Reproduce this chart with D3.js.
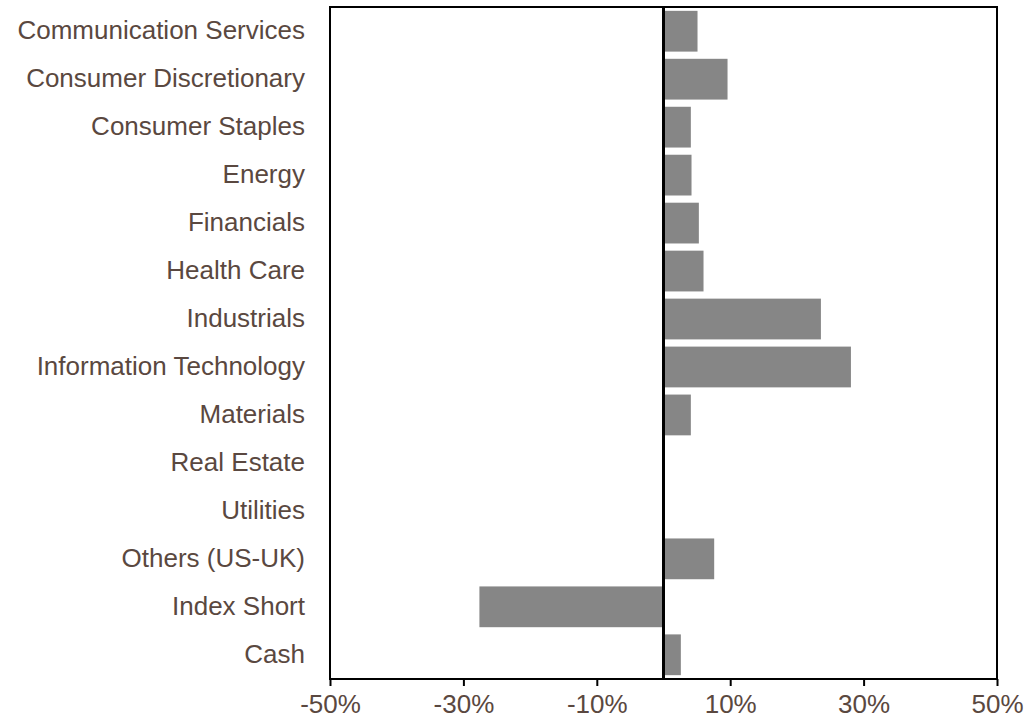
<!DOCTYPE html>
<html>
<head>
<meta charset="utf-8">
<script src="https://cdn.jsdelivr.net/npm/d3@7"></script>
<style>
    body { margin: 0; background: #fff; }
    .lbl { font-family: "Liberation Sans", Arial, sans-serif; fill: #5a4840; }
</style>
</head>
<body>
<div id="chart"></div>
<script>
const sectors = ['Communication Services', 'Consumer Discretionary', 'Consumer Staples', 'Energy',
    'Financials', 'Health Care', 'Industrials', 'Information Technology', 'Materials',
    'Real Estate', 'Utilities', 'Others (US-UK)', 'Index Short', 'Cash'];
const weights = [5.1, 9.6, 4.1, 4.2, 5.3, 6.0, 23.6, 28.1, 4.1, 0, 0, 7.6, -27.6, 2.6];
const tickValues = [-50, -30, -10, 10, 30, 50];

const margin = { top: 7, right: 30, bottom: 45, left: 330 };
const width = 1027 - margin.left - margin.right;
const height = 724 - margin.top - margin.bottom;

const svg = d3.select('#chart')
    .append('svg')
    .attr('width', 1027)
    .attr('height', 724)
    .append('g')
    .attr('transform', 'translate(' + margin.left + ',' + margin.top + ')');

const x = d3.scaleLinear().domain([-50, 50]).range([0, width]);
const y = d3.scaleBand().domain(sectors).range([0, height]).paddingInner(0.15).paddingOuter(0.08);

// bars
svg.selectAll('.bar')
    .data(sectors)
    .enter()
    .append('rect')
    .attr('class', 'bar')
    .attr('x', (d, i) => x(Math.min(0, weights[i])))
    .attr('y', d => y(d))
    .attr('width', (d, i) => Math.abs(x(weights[i]) - x(0)))
    .attr('height', y.bandwidth())
    .attr('fill', '#868686');

// frame
svg.append('rect')
    .attr('width', width)
    .attr('height', height)
    .attr('fill', 'none')
    .attr('stroke', '#000')
    .attr('stroke-width', 2);

// zero line
svg.append('line')
    .attr('x1', x(0)).attr('x2', x(0))
    .attr('y1', 0).attr('y2', height)
    .attr('stroke', '#000')
    .attr('stroke-width', 3);

// x axis
const xAxis = svg.append('g')
    .attr('transform', `translate(0, ${height})`)
    .call(d3.axisBottom(x).tickValues(tickValues).tickSize(7).tickPadding(9).tickFormat(d => d + '%'));
xAxis.select('.domain').remove();
xAxis.selectAll('line').attr('stroke', '#000').attr('stroke-width', 2);
xAxis.selectAll('text').attr('class', 'lbl').style('font-size', '26px');

// category labels
svg.selectAll('.cat')
    .data(sectors)
    .enter()
    .append('text')
    .attr('class', 'lbl')
    .attr('x', -25)
    .attr('y', d => y(d) + y.bandwidth() / 2)
    .attr('dy', '0.3em')
    .style('text-anchor', 'end')
    .style('font-size', '26px')
    .text(d => d);
</script>
</body>
</html>
